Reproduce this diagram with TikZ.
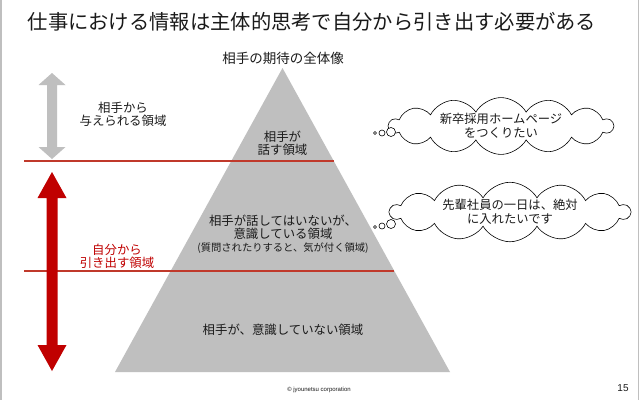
\documentclass[tikz,border=0pt]{standalone}
\usepackage{fontspec}
\setmainfont{Liberation Sans}
\newfontfamily\jp{Noto Sans CJK JP}
\usetikzlibrary{shapes.symbols}
\definecolor{pyr}{HTML}{BFBFBF}
\definecolor{dred}{HTML}{C00000}
\definecolor{lred}{HTML}{C0392B}
\definecolor{txt}{HTML}{1A1A1A}
\begin{document}
\begin{tikzpicture}[x=1pt,y=-1pt,
  lbl/.style={font=\jp\fontsize{12.4}{13.2}\selectfont, text=txt, align=center, inner sep=0pt},
  redlbl/.style={lbl, text=dred},
  thought/.style={cloud, draw=black, fill=white, line width=0.6pt, cloud puffs=14, cloud puff arc=120, cloud ignores aspect, inner sep=0pt, font=\jp\fontsize{12.3}{14}\selectfont, align=center, text=txt},
  bubble/.style={circle, draw=black, fill=white, line width=0.6pt, inner sep=0pt}]
\useasboundingbox (0,0) rectangle (640,400);
\fill[white] (0,0) rectangle (640,400);
\draw[pyr, line width=1.2pt] (1,0) -- (1,400);
\draw[pyr, line width=1.2pt] (638.5,0) -- (638.5,400);
% title
\node[lbl, font=\jp\fontsize{20.3}{24}\selectfont] (title) at (312,22) {仕事における情報は主体的思考で自分から引き出す必要がある};
\node[lbl, font=\jp\fontsize{13.5}{15}\selectfont] (sub) at (283,58) {相手の期待の全体像};
% pyramid
\fill[pyr] (282.5,68) -- (450,372) -- (115,372) -- cycle;
% red lines
\coordinate (l1a) at (24,161);
\coordinate (l1b) at (333.7,161);
\coordinate (l2a) at (24,271);
\coordinate (l2b) at (394.3,271);
\draw[draw=lred, line width=1.1pt] (l1a) -- (l1b);
\draw[draw=lred, line width=1.1pt] (l2a) -- (l2b);
% gray double arrow
\fill[pyr] (52,73) -- (65.5,85) -- (57,85) -- (57,147) -- (65.5,147) -- (52,159) -- (38.5,147) -- (47,147) -- (47,85) -- (38.5,85) -- cycle;
% red double arrow
\fill[dred] (52,172) -- (66.5,198) -- (57.5,198) -- (57.5,345) -- (66.5,345) -- (52,371) -- (37.5,345) -- (46.5,345) -- (46.5,198) -- (37.5,198) -- cycle;
% side labels
\node[lbl] (given) at (123,114.5) {相手から\\与えられる領域};
\node[redlbl] (draw) at (117,256.5) {自分から\\引き出す領域};
% pyramid labels
\node[lbl] (p1) at (282.5,143.5) {相手が\\話す領域};
\node[lbl] (p2) at (283,234.5) {相手が話してはいないが、\\意識している領域\\{\fontsize{10.3}{11}\selectfont (質問されたりすると、気が付く領域)}};
\node[lbl] (p3) at (283,330) {相手が、意識していない領域};
% clouds
\node[thought, minimum width=224pt, minimum height=42pt] (c1) at (501,126) {新卒採用ホームページ\\をつくりたい};
\node[bubble, minimum size=3pt] (b1a) at (375,133) {};
\node[bubble, minimum size=6pt] (b1b) at (382,133) {};
\node[bubble, minimum size=9pt] (b1c) at (391,132) {};
\node[thought, minimum width=240pt, minimum height=48pt] (c2) at (510,212) {先輩社員の一日は、絶対\\に入れたいです};
\node[bubble, minimum size=3pt] (b2a) at (375,227) {};
\node[bubble, minimum size=6pt] (b2b) at (382,226) {};
\node[bubble, minimum size=9pt] (b2c) at (391,224) {};
% footer
\node[inner sep=0pt, font=\fontsize{6}{7}\selectfont, text=txt] (copy) at (319,390) {© jyounetsu corporation};
\node[inner sep=0pt, font=\fontsize{10}{12}\selectfont, text=txt] (page) at (623,388) {15};
\end{tikzpicture}
\end{document}
